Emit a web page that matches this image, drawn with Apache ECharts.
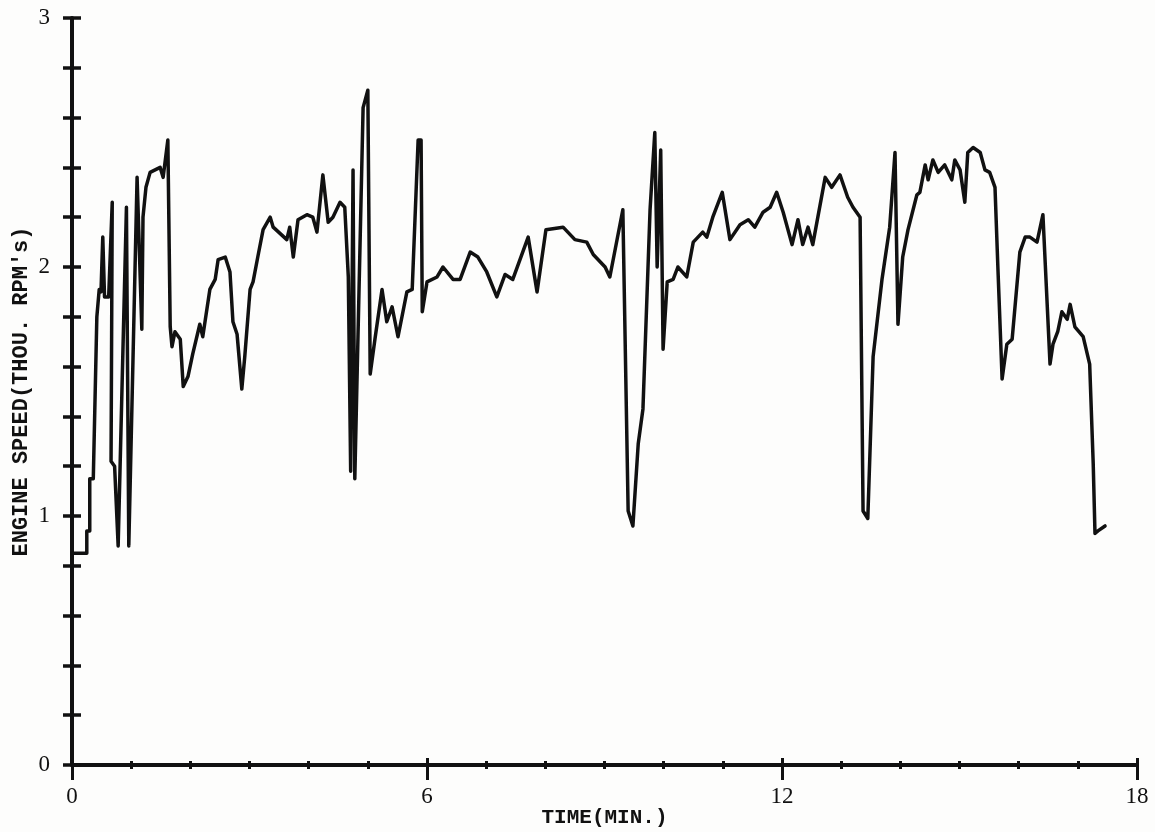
<!DOCTYPE html>
<html>
<head>
<meta charset="utf-8">
<script src="https://cdn.jsdelivr.net/npm/echarts@6/dist/echarts.min.js"></script>
<style>
html,body{margin:0;padding:0;background:#fdfdfc;}
#chart{width:1155px;height:832px;}
</style>
</head>
<body>
<div id="chart"></div>
<script>
// Time (minutes)
var timeMin = [
  0.00, 0.25, 0.25, 0.30, 0.30, 0.36, 0.42, 0.46, 0.49, 0.52, 0.55, 0.62, 0.68, 0.66, 0.72,
  0.78, 0.92, 0.96, 1.10, 1.18, 1.20, 1.25, 1.32, 1.49, 1.54, 1.62, 1.66, 1.69, 1.74, 1.83,
  1.88, 1.96, 2.04, 2.16, 2.21, 2.33, 2.42, 2.47, 2.59, 2.67, 2.72, 2.79, 2.87, 2.92, 3.01,
  3.06, 3.14, 3.23, 3.35, 3.40, 3.63, 3.68, 3.74, 3.82, 3.97, 4.07, 4.14, 4.24, 4.33, 4.41,
  4.53, 4.61, 4.67, 4.71, 4.75, 4.78, 4.92, 5.00, 5.04, 5.12, 5.24, 5.32, 5.41, 5.51, 5.66,
  5.75, 5.85, 5.90, 5.92, 6.00, 6.17, 6.27, 6.44, 6.56, 6.73, 6.86, 7.01, 7.18, 7.32, 7.45,
  7.71, 7.86, 8.01, 8.30, 8.50, 8.70, 8.81, 9.01, 9.09, 9.31, 9.40, 9.48, 9.57, 9.65, 9.77,
  9.85, 9.89, 9.95, 9.99, 10.06, 10.16, 10.24, 10.39, 10.50, 10.66, 10.73, 10.83, 10.99, 11.12, 11.29,
  11.43, 11.54, 11.68, 11.80, 11.91, 12.02, 12.17, 12.27, 12.35, 12.44, 12.52, 12.73, 12.84, 12.98, 13.11,
  13.20, 13.32, 13.37, 13.45, 13.54, 13.69, 13.82, 13.91, 13.96, 14.04, 14.13, 14.28, 14.33, 14.42, 14.47,
  14.55, 14.64, 14.75, 14.87, 14.92, 15.01, 15.09, 15.14, 15.23, 15.35, 15.43, 15.51, 15.60, 15.65, 15.72,
  15.80, 15.89, 16.02, 16.11, 16.19, 16.31, 16.41, 16.53, 16.58, 16.66, 16.73, 16.82, 16.87, 16.95, 17.09,
  17.20, 17.26, 17.29, 17.34, 17.46
];
// Engine speed (thousand RPM)
var engineSpeed = [
  0.85, 0.85, 0.94, 0.94, 1.15, 1.15, 1.80, 1.91, 1.90, 2.12, 1.88, 1.88, 2.26, 1.22, 1.20,
  0.88, 2.24, 0.88, 2.36, 1.75, 2.20, 2.32, 2.38, 2.40, 2.36, 2.51, 1.76, 1.68, 1.74, 1.71,
  1.52, 1.56, 1.65, 1.77, 1.72, 1.91, 1.95, 2.03, 2.04, 1.98, 1.78, 1.73, 1.51, 1.64, 1.91,
  1.94, 2.04, 2.15, 2.20, 2.16, 2.11, 2.16, 2.04, 2.19, 2.21, 2.20, 2.14, 2.37, 2.18, 2.20,
  2.26, 2.24, 1.96, 1.18, 2.39, 1.15, 2.64, 2.71, 1.57, 1.71, 1.91, 1.78, 1.84, 1.72, 1.90,
  1.91, 2.51, 2.51, 1.82, 1.94, 1.96, 2.00, 1.95, 1.95, 2.06, 2.04, 1.98, 1.88, 1.97, 1.95,
  2.12, 1.90, 2.15, 2.16, 2.11, 2.10, 2.05, 2.00, 1.96, 2.23, 1.02, 0.96, 1.29, 1.43, 2.23,
  2.54, 2.00, 2.47, 1.67, 1.94, 1.95, 2.00, 1.96, 2.10, 2.14, 2.12, 2.20, 2.30, 2.11, 2.17,
  2.19, 2.16, 2.22, 2.24, 2.30, 2.22, 2.09, 2.19, 2.09, 2.16, 2.09, 2.36, 2.32, 2.37, 2.28,
  2.24, 2.20, 1.02, 0.99, 1.64, 1.95, 2.16, 2.46, 1.77, 2.04, 2.15, 2.29, 2.30, 2.41, 2.35,
  2.43, 2.38, 2.41, 2.35, 2.43, 2.39, 2.26, 2.46, 2.48, 2.46, 2.39, 2.38, 2.32, 1.99, 1.55,
  1.69, 1.71, 2.06, 2.12, 2.12, 2.10, 2.21, 1.61, 1.69, 1.74, 1.82, 1.79, 1.85, 1.76, 1.72,
  1.61, 1.21, 0.93, 0.94, 0.96
];
var xTickLabels = ['0', '6', '12', '18'];
var yTickLabels = ['0', '1', '2', '3'];

var seriesData = timeMin.map(function (t, i) { return [t, engineSpeed[i]]; });

var ink = '#111';
var labelFont = 'Liberation Serif';
var titleFont = 'Liberation Mono';

var chart = echarts.init(document.getElementById('chart'));
chart.setOption({
  backgroundColor: '#fdfdfc',
  animation: false,
  grid: { left: 72, right: 18, top: 18, bottom: 67, containLabel: false, outerBoundsMode: 'none' },
  xAxis: [{
    type: 'value', min: 0, max: 18, interval: 6,
    name: 'TIME(MIN.)', nameLocation: 'middle', nameGap: 42, nameMoveOverlap: false,
    nameTextStyle: { fontFamily: titleFont, fontSize: 21, fontWeight: 'bold', color: ink },
    axisLine: { show: true, lineStyle: { color: ink, width: 4 } },
    axisTick: { show: true, inside: true, length: 7, lineStyle: { color: ink, width: 3 } },
    minorTick: { show: true, splitNumber: 6, length: 4, lineStyle: { color: ink, width: 3 } },
    splitLine: { show: false },
    axisLabel: {
      margin: 20, fontFamily: labelFont, fontSize: 23, color: ink,
      formatter: function (v) { return xTickLabels[Math.round(v / 6)]; }
    }
  }, {
    type: 'value', min: 0, max: 18, interval: 6, position: 'bottom',
    axisLine: { show: false },
    axisTick: { show: true, inside: false, length: 15, lineStyle: { color: ink, width: 3 } },
    minorTick: { show: true, splitNumber: 6, length: 4, lineStyle: { color: ink, width: 3 } },
    splitLine: { show: false },
    axisLabel: { show: false }
  }],
  yAxis: [{
    type: 'value', min: 0, max: 3, interval: 1,
    name: "ENGINE SPEED(THOU. RPM's)", nameLocation: 'middle', nameGap: 40, nameRotate: 90,
    nameMoveOverlap: false,
    nameTextStyle: { fontFamily: titleFont, fontSize: 22, fontWeight: 'bold', color: ink },
    axisLine: { show: true, lineStyle: { color: ink, width: 4 } },
    axisTick: { show: true, inside: false, length: 9, lineStyle: { color: ink, width: 3.5 } },
    minorTick: { show: true, splitNumber: 5, length: 9, lineStyle: { color: ink, width: 3.5 } },
    splitLine: { show: false },
    axisLabel: {
      margin: 22, fontFamily: labelFont, fontSize: 23, color: ink,
      formatter: function (v) { return yTickLabels[Math.round(v)]; }
    }
  }, {
    type: 'value', min: 0, max: 3, interval: 1, position: 'left',
    axisLine: { show: false },
    axisTick: { show: true, inside: true, length: 9, lineStyle: { color: ink, width: 3.5 } },
    minorTick: { show: true, splitNumber: 5, length: 9, lineStyle: { color: ink, width: 3.5 } },
    splitLine: { show: false },
    axisLabel: { show: false }
  }],
  series: [{
    type: 'line',
    xAxisIndex: 0, yAxisIndex: 0,
    data: seriesData,
    showSymbol: false,
    symbol: 'none',
    lineStyle: { color: ink, width: 3.5, join: 'round', cap: 'round' },
    z: 5
  }]
});
</script>
</body>
</html>
